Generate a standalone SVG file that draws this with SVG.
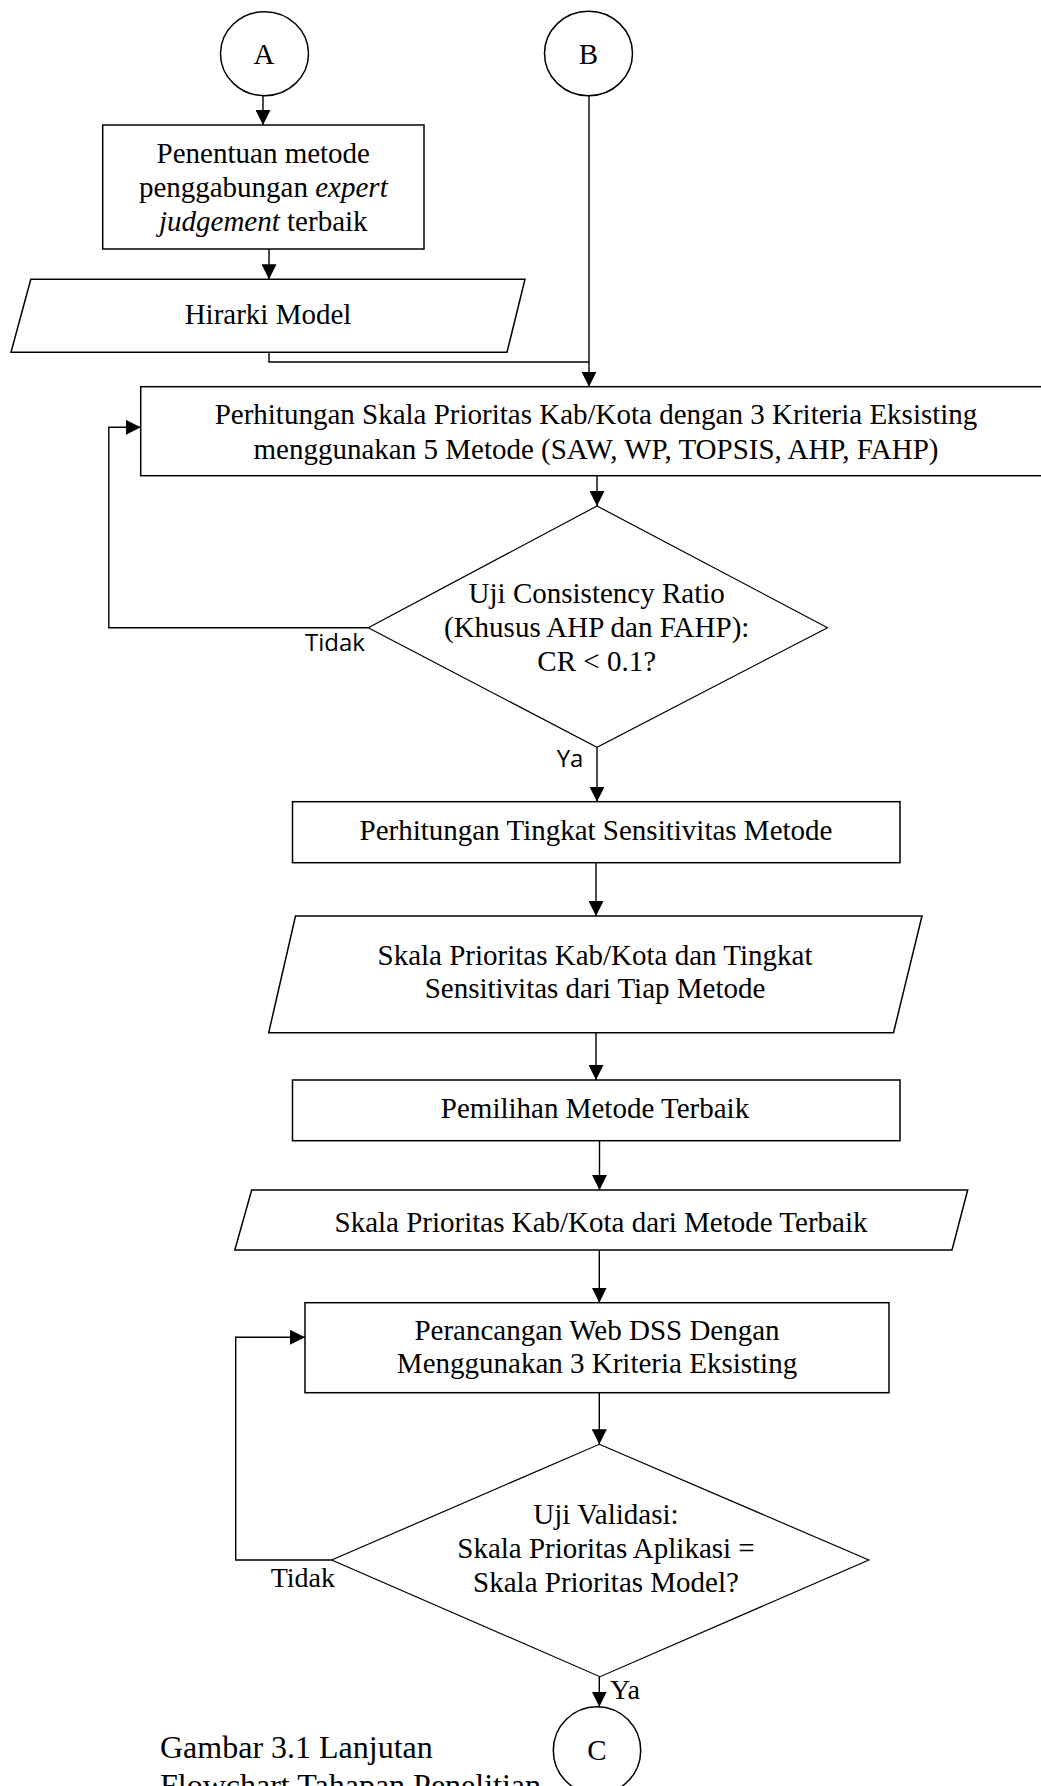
<svg xmlns="http://www.w3.org/2000/svg" width="1041" height="1786" viewBox="0 0 1041 1786">
<style>
.bg{fill:#ffffff}
.shape{fill:#ffffff;stroke:#000000;stroke-width:1.5}
.dia{fill:#ffffff;stroke:#000000;stroke-width:1.2}
.edge{fill:none;stroke:#000000;stroke-width:1.4}
.t{font-family:"Liberation Serif","Times New Roman",serif;font-size:29px;fill:#000000;text-anchor:middle}
.lbl{font-family:"Liberation Serif","Times New Roman",serif;font-size:28px;fill:#000000}
.lbls{font-family:"Open Sans","Noto Sans",sans-serif;font-size:24px;fill:#000000}
.cap{font-family:"Liberation Serif","Times New Roman",serif;font-size:32px;fill:#000000}
.i{font-style:italic}
</style>
<defs>
<marker id="arr" markerUnits="userSpaceOnUse" markerWidth="15" markerHeight="15" viewBox="0 0 15 15" refX="15" refY="7.5" orient="auto">
<path d="M0,0 L15,7.5 L0,15 z" fill="#000000"/>
</marker>
</defs>
<rect class="bg" x="0" y="0" width="1041" height="1786"/>

<g id="connectors">
<path class="edge" d="M263,96 L263,125" marker-end="url(#arr)"/>
<path class="edge" d="M269,249 L269,279.3" marker-end="url(#arr)"/>
<path class="edge" d="M269,352.3 L269,362 L589,362"/>
<path class="edge" d="M589,96 L589,386.7" marker-end="url(#arr)"/>
<path class="edge" d="M597,475.7 L597,506" marker-end="url(#arr)"/>
<path class="edge" d="M368.3,627.7 L108.8,627.7 L108.8,427.3 L140.7,427.3" marker-end="url(#arr)"/>
<path class="edge" d="M597,747.3 L597,801.7" marker-end="url(#arr)"/>
<path class="edge" d="M596,862.7 L596,916" marker-end="url(#arr)"/>
<path class="edge" d="M596,1032.7 L596,1080" marker-end="url(#arr)"/>
<path class="edge" d="M599.5,1140.7 L599.5,1190" marker-end="url(#arr)"/>
<path class="edge" d="M599.3,1250 L599.3,1302.7" marker-end="url(#arr)"/>
<path class="edge" d="M599.3,1392.7 L599.3,1444.3" marker-end="url(#arr)"/>
<path class="edge" d="M331.7,1560 L235.7,1560 L235.7,1337.3 L305,1337.3" marker-end="url(#arr)"/>
<path class="edge" d="M599.3,1676.7 L599.3,1706.7" marker-end="url(#arr)"/>
<text class="lbls" x="305" y="650.7">Tidak</text>
<text class="lbls" x="556.7" y="766.7">Ya</text>
<text class="lbl" x="270.7" y="1586.7">Tidak</text>
<text class="lbl" x="610" y="1699.3">Ya</text>
</g>

<g id="nodeA">
<ellipse class="shape" cx="264.5" cy="53.7" rx="44" ry="42"/>
<text class="t" x="264" y="64">A</text>
</g>

<g id="nodeB">
<ellipse class="shape" cx="588.5" cy="53.5" rx="44" ry="42.3"/>
<text class="t" x="588.5" y="64">B</text>
</g>

<g id="penentuan">
<rect class="shape" x="102.7" y="125" width="321.3" height="124"/>
<text class="t" x="263.3" y="163">Penentuan metode</text>
<text class="t" x="263.3" y="197.3">penggabungan <tspan class="i">expert</tspan></text>
<text class="t" x="263.3" y="231"><tspan class="i">judgement</tspan> terbaik</text>
</g>

<g id="hirarki">
<polygon class="shape" points="30.8,279.3 525,279.3 507,352.3 11,352.3"/>
<text class="t" x="268" y="324">Hirarki Model</text>
</g>

<g id="perhitungan-skala">
<rect class="shape" x="140.7" y="386.7" width="910" height="89"/>
<text class="t" x="596" y="424.3">Perhitungan Skala Prioritas Kab/Kota dengan 3 Kriteria Eksisting</text>
<text class="t" x="596" y="459.3">menggunakan 5 Metode (SAW, WP, TOPSIS, AHP, FAHP)</text>
</g>

<g id="uji-cr">
<polygon class="dia" points="597,506 827.5,627.7 597,747.3 368.3,627.7"/>
<text class="t" x="596.7" y="603.3">Uji Consistency Ratio</text>
<text class="t" x="596.7" y="637.3">(Khusus AHP dan FAHP):</text>
<text class="t" x="596.7" y="670.7">CR &lt; 0.1?</text>
</g>

<g id="sensitivitas">
<rect class="shape" x="292.5" y="801.7" width="607.5" height="61"/>
<text class="t" x="596" y="840">Perhitungan Tingkat Sensitivitas Metode</text>
</g>

<g id="skala-sensitivitas">
<polygon class="shape" points="295.5,916 922,916 893.5,1032.7 268.7,1032.7"/>
<text class="t" x="595" y="965">Skala Prioritas Kab/Kota dan Tingkat</text>
<text class="t" x="595" y="998">Sensitivitas dari Tiap Metode</text>
</g>

<g id="pemilihan">
<rect class="shape" x="292.5" y="1080" width="607.5" height="60.7"/>
<text class="t" x="595" y="1118">Pemilihan Metode Terbaik</text>
</g>

<g id="skala-terbaik">
<polygon class="shape" points="251.7,1190 967.7,1190 952,1250 234.8,1250"/>
<text class="t" x="601" y="1231.7">Skala Prioritas Kab/Kota dari Metode Terbaik</text>
</g>

<g id="perancangan">
<rect class="shape" x="305" y="1302.7" width="584" height="90"/>
<text class="t" x="597" y="1340">Perancangan Web DSS Dengan</text>
<text class="t" x="597" y="1373.3">Menggunakan 3 Kriteria Eksisting</text>
</g>

<g id="uji-validasi">
<polygon class="dia" points="599.3,1444.3 868.8,1560 600,1676.7 331.7,1560"/>
<text class="t" x="606" y="1524">Uji Validasi:</text>
<text class="t" x="606" y="1558.3">Skala Prioritas Aplikasi =</text>
<text class="t" x="606" y="1591.7">Skala Prioritas Model?</text>
</g>

<g id="nodeC">
<ellipse class="shape" cx="597" cy="1750.4" rx="43.7" ry="43.7"/>
<text class="t" x="597" y="1760">C</text>
</g>

<g id="caption">
<text class="cap" x="160" y="1758.3">Gambar 3.1 Lanjutan</text>
<text class="cap" x="160" y="1796">Flowchart Tahapan Penelitian</text>
</g>
</svg>
